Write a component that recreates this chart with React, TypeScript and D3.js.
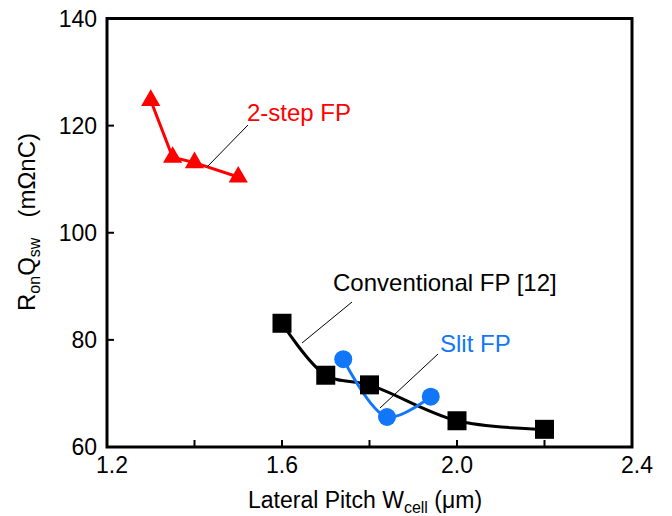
import React from "react";
import * as d3 from "d3";

const twoStepX = [1.3, 1.35, 1.4, 1.5];
const twoStepY = [124.7, 114.1, 113.1, 110.4];
const convX = [1.6, 1.7, 1.8, 2.0, 2.2];
const convY = [83.1, 73.4, 71.6, 64.9, 63.3];
const slitX = [1.74, 1.84, 1.94];
const slitY = [76.4, 65.6, 69.4];
const xTicks = [1.2, 1.4, 1.6, 1.8, 2.0, 2.2, 2.4];
const xTickLabels = ["1.2", "", "1.6", "", "2.0", "", "2.4"];
const yTicks = [60, 80, 100, 120, 140];

const W = 672, H = 516;
const L = 107, R = 632, T = 18.5, B = 447;
const font = "'Liberation Sans', Arial, sans-serif";
const BLUE = "#1177f8";

export default function App() {
  const x = d3.scaleLinear().domain([1.2, 2.4]).range([L, R]);
  const y = d3.scaleLinear().domain([60, 140]).range([B, T]);
  const pts = (xs: number[], ys: number[]) => xs.map((v, i) => [x(v), y(ys[i])] as [number, number]);
  const straight = d3.line();
  const smooth = d3.line().curve(d3.curveCatmullRom.alpha(0.5));
  const red = pts(twoStepX, twoStepY);
  const blk = pts(convX, convY);
  const blu = pts(slitX, slitY);
  const tri = d3.symbol().type(d3.symbolTriangle).size(160)();
  return (
    <svg width={W} height={H} style={{ position: "absolute", left: 0, top: 0, background: "#fff" }} fontFamily={font}>
      <rect x={0} y={0} width={W} height={H} fill="#fff" />
      {xTicks.map((t, i) => (
        <g key={"xt" + i}>
          <line x1={x(t)} x2={x(t)} y1={B} y2={B - 7} stroke="#000" strokeWidth={2} />
          {xTickLabels[i] && (
            <text x={x(t) + (i === 0 ? 5 : i === xTicks.length - 1 ? 5 : 0)} y={473} textAnchor="middle" fontSize={23} fill="#000">{xTickLabels[i]}</text>
          )}
        </g>
      ))}
      {yTicks.map((t, i) => (
        <g key={"yt" + i}>
          <line x1={L} x2={L + 7} y1={y(t)} y2={y(t)} stroke="#000" strokeWidth={2} />
          <text x={97} y={y(t) + 8} textAnchor="end" fontSize={23} fill="#000">{t}</text>
        </g>
      ))}
      <rect x={L} y={T} width={R - L} height={B - T} fill="none" stroke="#000" strokeWidth={3} />
      <path d={straight(red) || ""} fill="none" stroke="#ff0000" strokeWidth={3} />
      {red.map((p, i) => (
        <path key={"r" + i} d={tri || ""} transform={`translate(${p[0]},${p[1]})`} fill="#ff0000" />
      ))}
      <path d={smooth(blk) || ""} fill="none" stroke="#000" strokeWidth={3} />
      <path d={smooth(blu) || ""} fill="none" stroke={BLUE} strokeWidth={3} />
      {blk.map((p, i) => (
        <rect key={"b" + i} x={p[0] - 9.5} y={p[1] - 9.5} width={19} height={19} fill="#000" />
      ))}
      {blu.map((p, i) => (
        <circle key={"c" + i} cx={p[0]} cy={p[1]} r={9} fill={BLUE} />
      ))}
      <line x1={248} y1={125} x2={207} y2={167} stroke="#000" strokeWidth={1} />
      <text x={247} y={121} fontSize={24} fill="#ff0000">2-step FP</text>
      <line x1={352} y1={302} x2={302} y2={343} stroke="#000" strokeWidth={1} />
      <text x={333} y={291} fontSize={24} fill="#000">Conventional FP [12]</text>
      <line x1={438} y1={354} x2={380} y2={408} stroke="#000" strokeWidth={1} />
      <text x={440} y={352} fontSize={24} fill={BLUE}>Slit FP</text>
      <text x={365} y={508} textAnchor="middle" fontSize={23} fill="#000">
        Lateral Pitch W<tspan fontSize={16} dy={5}>cell</tspan><tspan dy={-5}> (μm)</tspan>
      </text>
      <text transform={`translate(35,222) rotate(-90)`} textAnchor="middle" fontSize={24} fill="#000">
        R<tspan fontSize={16} dy={5}>on</tspan><tspan dy={-5}>Q</tspan><tspan fontSize={16} dy={5}>sw</tspan><tspan dy={-5}>{"\u00a0\u00a0\u00a0(mΩnC)"}</tspan>
      </text>
    </svg>
  );
}
